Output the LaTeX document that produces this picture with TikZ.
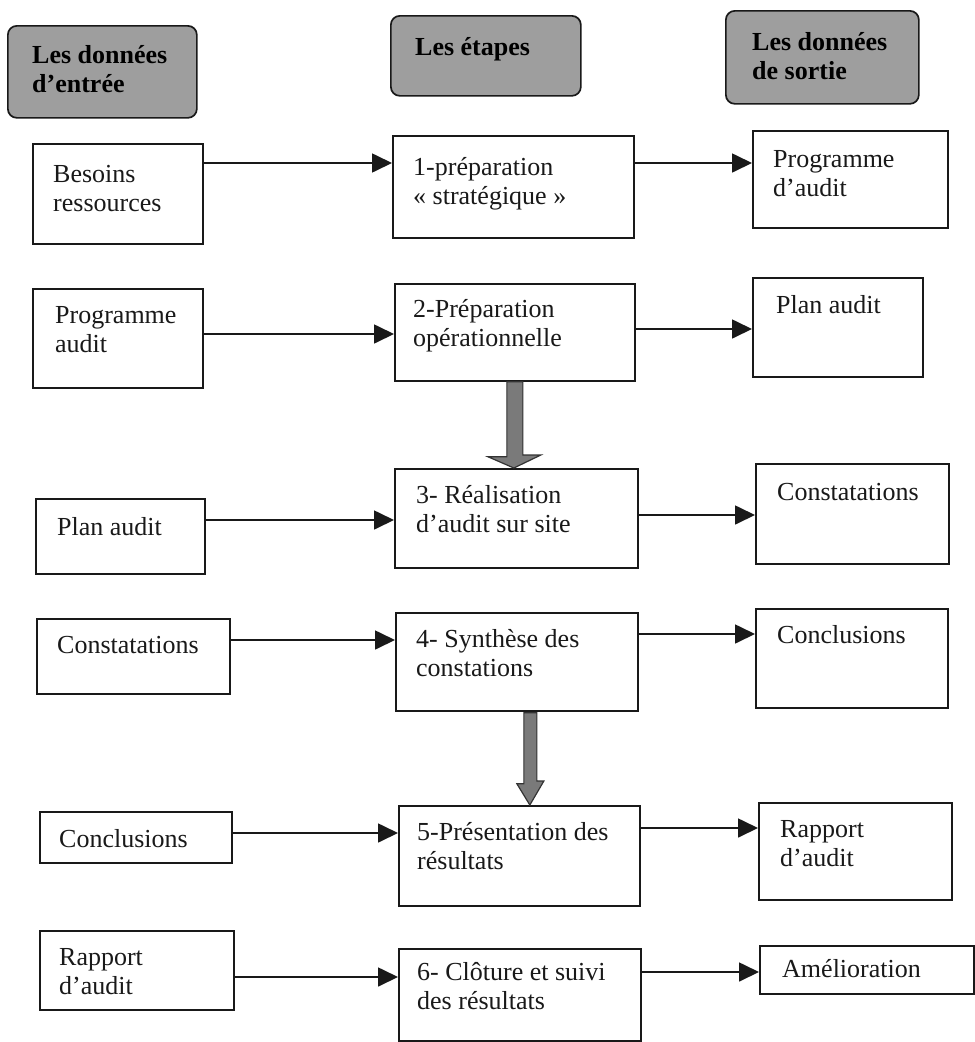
\documentclass[tikz,border=0pt]{standalone}
\usepackage{fontspec}
\setmainfont{Liberation Serif}
\usetikzlibrary{arrows.meta,calc}
\tikzset{
  box/.style={draw=black!90, line width=1.7pt, inner sep=0pt, anchor=north west, fill=white},
  head/.style={draw=black!90, line width=1.7pt, inner sep=0pt, anchor=north west, rounded corners=9pt, fill=black!38},
  txt/.style={anchor=base west, inner sep=0pt, font=\fontsize{26}{29.5}\selectfont, text=black!90},
  htxt/.style={anchor=base west, inner sep=0pt, font=\fontsize{26}{29}\selectfont\bfseries},
  arr/.style={draw=black!90, line width=1.7pt, -{Triangle[length=20pt,width=19pt]}},
  fat/.style={draw=black!80, line width=1.2pt, fill=black!52, line join=miter}
}
\begin{document}
\begin{tikzpicture}[x=1pt,y=-1pt]
\useasboundingbox (0,0) rectangle (975,1042);
\fill[white] (0,0) rectangle (975,1042);

% headers
\node[head, minimum width=189pt, minimum height=92pt] (H1) at (7,25) {};
\node[htxt] (H1t) at (32,63) {\parbox[t]{160pt}{Les données\\d’entrée}};
\node[head, minimum width=190pt, minimum height=80pt] (H2) at (390,15) {};
\node[htxt] (H2t) at (415,55) {\parbox[t]{160pt}{Les étapes}};
\node[head, minimum width=193pt, minimum height=93pt] (H3) at (725,10) {};
\node[htxt] (H3t) at (752,50) {\parbox[t]{160pt}{Les données\\de sortie}};

% left column
\node[box, minimum width=170pt, minimum height=100pt] (L1) at (32,143) {};
\node[txt] (L1t) at (53,182) {\parbox[t]{145pt}{Besoins\\ressources}};
\node[box, minimum width=170pt, minimum height=99pt] (L2) at (32,288) {};
\node[txt] (L2t) at (55,323) {\parbox[t]{145pt}{Programme\\audit}};
\node[box, minimum width=169pt, minimum height=75pt] (L3) at (35,498) {};
\node[txt] (L3t) at (57,535) {\parbox[t]{145pt}{Plan audit}};
\node[box, minimum width=193pt, minimum height=75pt] (L4) at (36,618) {};
\node[txt] (L4t) at (57,653) {\parbox[t]{170pt}{Constatations}};
\node[box, minimum width=192pt, minimum height=51pt] (L5) at (39,811) {};
\node[txt] (L5t) at (59,847) {\parbox[t]{170pt}{Conclusions}};
\node[box, minimum width=194pt, minimum height=79pt] (L6) at (39,930) {};
\node[txt] (L6t) at (59,965) {\parbox[t]{170pt}{Rapport\\d’audit}};

% middle column
\node[box, minimum width=241pt, minimum height=102pt] (M1) at (392,135) {};
\node[txt] (M1t) at (413,175) {\parbox[t]{215pt}{1-préparation\\«~stratégique~»}};
\node[box, minimum width=240pt, minimum height=97pt] (M2) at (394,283) {};
\node[txt] (M2t) at (413,317) {\parbox[t]{215pt}{2-Préparation\\opérationnelle}};
\node[box, minimum width=243pt, minimum height=99pt] (M3) at (394,468) {};
\node[txt] (M3t) at (416,503) {\parbox[t]{215pt}{3- Réalisation\\d’audit sur site}};
\node[box, minimum width=242pt, minimum height=98pt] (M4) at (395,612) {};
\node[txt] (M4t) at (416,647) {\parbox[t]{215pt}{4- Synthèse des\\constations}};
\node[box, minimum width=241pt, minimum height=100pt] (M5) at (398,805) {};
\node[txt] (M5t) at (417,840) {\parbox[t]{215pt}{5-Présentation des\\résultats}};
\node[box, minimum width=242pt, minimum height=92pt] (M6) at (398,948) {};
\node[txt] (M6t) at (417,980) {\parbox[t]{215pt}{6- Clôture et suivi\\des résultats}};

% right column
\node[box, minimum width=195pt, minimum height=97pt] (R1) at (752,130) {};
\node[txt] (R1t) at (773,167) {\parbox[t]{165pt}{Programme\\d’audit}};
\node[box, minimum width=170pt, minimum height=99pt] (R2) at (752,277) {};
\node[txt] (R2t) at (776,313) {\parbox[t]{140pt}{Plan audit}};
\node[box, minimum width=193pt, minimum height=100pt] (R3) at (755,463) {};
\node[txt] (R3t) at (777,500) {\parbox[t]{165pt}{Constatations}};
\node[box, minimum width=192pt, minimum height=99pt] (R4) at (755,608) {};
\node[txt] (R4t) at (777,643) {\parbox[t]{165pt}{Conclusions}};
\node[box, minimum width=193pt, minimum height=97pt] (R5) at (758,802) {};
\node[txt] (R5t) at (780,837) {\parbox[t]{165pt}{Rapport\\d’audit}};
\node[box, minimum width=214pt, minimum height=48pt] (R6) at (759,945) {};
\node[txt] (R6t) at (782,977) {\parbox[t]{185pt}{Amélioration}};

% horizontal connectors
\draw[arr] (L1.east |- 0,163) -- (M1.west |- 0,163);
\draw[arr] (M1.east |- 0,163) -- (R1.west |- 0,163);
\draw[arr] (L2.east |- 0,334) -- (M2.west |- 0,334);
\draw[arr] (M2.east |- 0,329) -- (R2.west |- 0,329);
\draw[arr] (L3.east |- 0,520) -- (M3.west |- 0,520);
\draw[arr] (M3.east |- 0,515) -- (R3.west |- 0,515);
\draw[arr] (L4.east |- 0,640) -- (M4.west |- 0,640);
\draw[arr] (M4.east |- 0,634) -- (R4.west |- 0,634);
\draw[arr] (L5.east |- 0,833) -- (M5.west |- 0,833);
\draw[arr] (M5.east |- 0,828) -- (R5.west |- 0,828);
\draw[arr] (L6.east |- 0,977) -- (M6.west |- 0,977);
\draw[arr] (M6.east |- 0,972) -- (R6.west |- 0,972);

% thick vertical arrows
\draw[fat] ($(M2.south)+(-8,0)$) -- ++(0,75) -- ++(-19,0) -- ($(M3.north)+(-2.5,0)$)
  -- ++(27,-13) -- ++(-18,0) -- ($(M2.south)+(8,0)$) -- cycle;
\draw[fat] ($(M4.south)+(7,1)$) -- ++(0,71) -- ++(-7,0) -- ($(M5.north)+(10.5,0)$)
  -- ++(14,-24) -- ++(-7,0) -- ($(M4.south)+(20,1)$) -- cycle;
\end{tikzpicture}
\end{document}
